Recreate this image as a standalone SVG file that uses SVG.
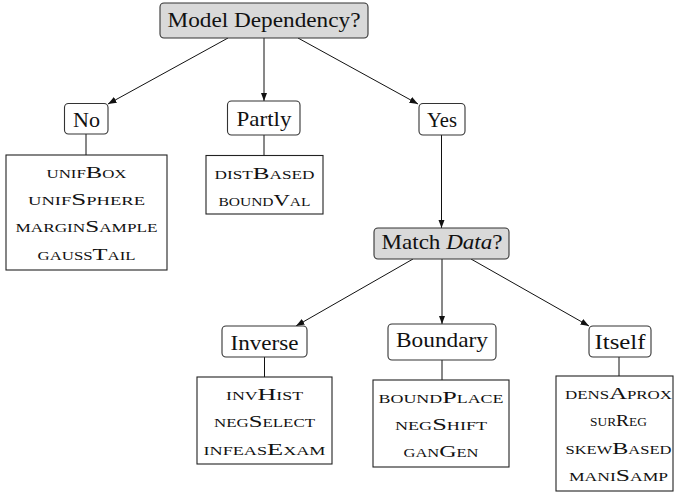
<svg xmlns="http://www.w3.org/2000/svg" width="675" height="496" viewBox="0 0 675 496">
<style>
text{font-family:"Liberation Serif","DejaVu Serif",serif;fill:#111;text-anchor:middle}
.lbl{font-size:22px}
.sc{font-size:17.5px;font-variant:small-caps}
.q{fill:#d9d9d9;stroke:#333;stroke-width:1.1}
.n{fill:#fff;stroke:#333;stroke-width:1.1}
.lst{fill:#fff;stroke:#222;stroke-width:1.1}
.c{stroke:#111;stroke-width:1;fill:none}
</style>
<defs>
<marker id="ah" markerWidth="9" markerHeight="8" refX="8.5" refY="4" orient="auto" markerUnits="userSpaceOnUse">
<path d="M0,0.8 L8.5,4 L0,7.2 z" fill="#111"/>
</marker>
</defs>
<rect width="675" height="496" fill="#fff"/>
<g id="connectors">
<line class="c" x1="228" y1="38" x2="108" y2="104" marker-end="url(#ah)"/>
<line class="c" x1="264" y1="38" x2="264" y2="101" marker-end="url(#ah)"/>
<line class="c" x1="298" y1="38" x2="418" y2="104" marker-end="url(#ah)"/>
<line class="c" x1="441.5" y1="135" x2="441.5" y2="228" marker-end="url(#ah)"/>
<line class="c" x1="413" y1="259" x2="296" y2="326" marker-end="url(#ah)"/>
<line class="c" x1="442" y1="259" x2="442" y2="324" marker-end="url(#ah)"/>
<line class="c" x1="471" y1="259" x2="589" y2="326" marker-end="url(#ah)"/>
<line class="c" x1="86" y1="134" x2="86" y2="155"/>
<line class="c" x1="264" y1="135" x2="264" y2="155.5"/>
<line class="c" x1="264.5" y1="357" x2="264.5" y2="377"/>
<line class="c" x1="442" y1="360" x2="442" y2="380"/>
<line class="c" x1="619" y1="357" x2="619" y2="376"/>
</g>
<g id="root">
<rect class="q" x="160" y="3" width="208" height="35" rx="4"/>
<text class="lbl" x="264" y="27" textLength="193" lengthAdjust="spacingAndGlyphs">Model Dependency?</text>
</g>
<g id="no">
<rect class="n" x="64.5" y="103.5" width="43.5" height="30.5" rx="4"/>
<text class="lbl" x="86.5" y="127.3" textLength="27" lengthAdjust="spacingAndGlyphs">No</text>
</g>
<g id="partly">
<rect class="n" x="227.5" y="101" width="72.5" height="34" rx="4"/>
<text class="lbl" x="264" y="125.5" textLength="55" lengthAdjust="spacingAndGlyphs">Partly</text>
</g>
<g id="yes">
<rect class="n" x="419" y="103.5" width="46" height="31.5" rx="4"/>
<text class="lbl" x="442" y="127.3" textLength="30" lengthAdjust="spacingAndGlyphs">Yes</text>
</g>
<g id="match">
<rect class="q" x="374" y="228" width="135" height="31" rx="4"/>
<text class="lbl" x="442" y="249.3" textLength="121" lengthAdjust="spacingAndGlyphs">Match <tspan font-style="italic">Data</tspan>?</text>
</g>
<g id="inverse">
<rect class="n" x="222" y="326" width="85" height="31" rx="4"/>
<text class="lbl" x="264.5" y="350" textLength="68" lengthAdjust="spacingAndGlyphs">Inverse</text>
</g>
<g id="boundary">
<rect class="n" x="388" y="324" width="108" height="36" rx="4"/>
<text class="lbl" x="442" y="346.7" textLength="92" lengthAdjust="spacingAndGlyphs">Boundary</text>
</g>
<g id="itself">
<rect class="n" x="589" y="326" width="62" height="31" rx="4"/>
<text class="lbl" x="620" y="349.3" textLength="51" lengthAdjust="spacingAndGlyphs">Itself</text>
</g>
<g id="no-list">
<rect class="lst" x="6" y="155" width="161" height="115"/>
<text class="sc" x="86.5" y="177.5" textLength="80" lengthAdjust="spacingAndGlyphs">unifBox</text>
<text class="sc" x="86.5" y="205" textLength="117" lengthAdjust="spacingAndGlyphs">unifSphere</text>
<text class="sc" x="86.5" y="232.3" textLength="142" lengthAdjust="spacingAndGlyphs">marginSample</text>
<text class="sc" x="86.5" y="259.7" textLength="98" lengthAdjust="spacingAndGlyphs">gaussTail</text>
</g>
<g id="partly-list">
<rect class="lst" x="206" y="155.5" width="117" height="58.5"/>
<text class="sc" x="264.5" y="178.5" textLength="100" lengthAdjust="spacingAndGlyphs">distBased</text>
<text class="sc" x="264.5" y="206.3" textLength="92" lengthAdjust="spacingAndGlyphs">boundVal</text>
</g>
<g id="inverse-list">
<rect class="lst" x="197" y="377" width="135" height="87"/>
<text class="sc" x="264.5" y="400" textLength="77" lengthAdjust="spacingAndGlyphs">invHist</text>
<text class="sc" x="264.5" y="427.3" textLength="101" lengthAdjust="spacingAndGlyphs">negSelect</text>
<text class="sc" x="264.5" y="454.6" textLength="122" lengthAdjust="spacingAndGlyphs">infeasExam</text>
</g>
<g id="boundary-list">
<rect class="lst" x="373" y="380" width="136" height="87"/>
<text class="sc" x="441" y="402.5" textLength="125" lengthAdjust="spacingAndGlyphs">boundPlace</text>
<text class="sc" x="441" y="429.6" textLength="92" lengthAdjust="spacingAndGlyphs">negShift</text>
<text class="sc" x="441" y="457" textLength="75" lengthAdjust="spacingAndGlyphs">ganGen</text>
</g>
<g id="itself-list">
<rect class="lst" x="556" y="376" width="117" height="115"/>
<text class="sc" x="618.5" y="399" textLength="107" lengthAdjust="spacingAndGlyphs">densAprox</text>
<text class="sc" x="618.5" y="426.3" textLength="57" lengthAdjust="spacingAndGlyphs">surReg</text>
<text class="sc" x="618.5" y="453.6" textLength="106" lengthAdjust="spacingAndGlyphs">skewBased</text>
<text class="sc" x="618.5" y="481" textLength="99" lengthAdjust="spacingAndGlyphs">maniSamp</text>
</g>
</svg>
